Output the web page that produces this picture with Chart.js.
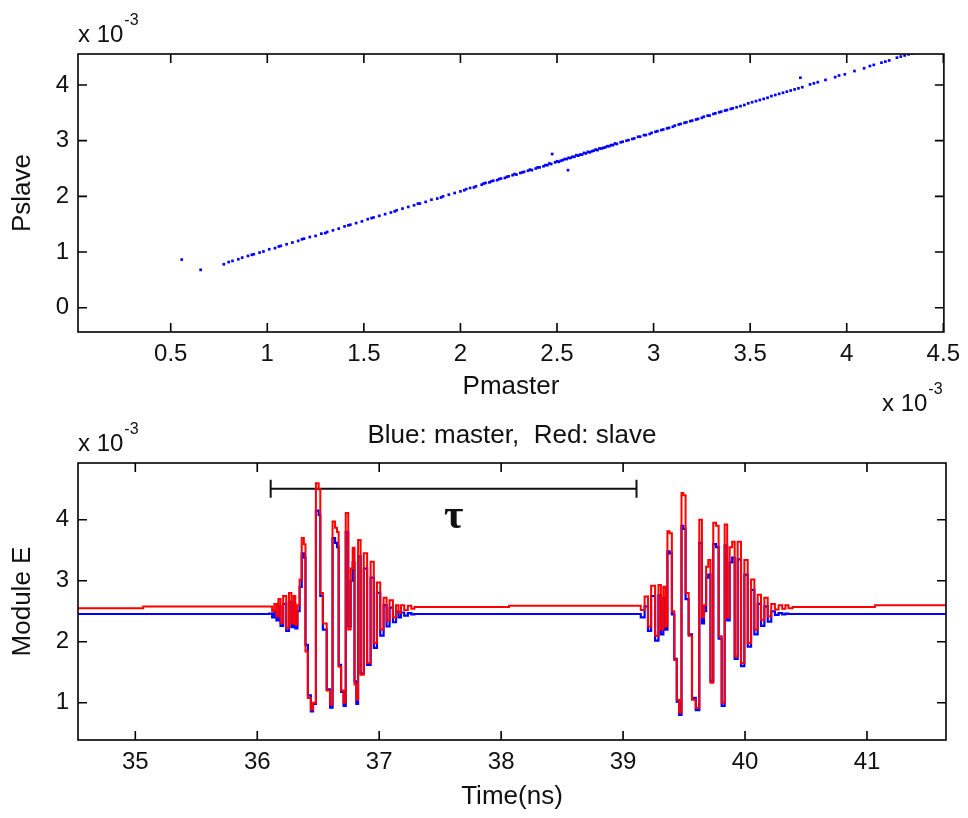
<!DOCTYPE html>
<html>
<head>
<meta charset="utf-8">
<script src="https://cdn.jsdelivr.net/npm/chart.js@4.4.1/dist/chart.umd.min.js"></script>
<style>
  html, body { margin: 0; padding: 0; background: #fff; }
  #page { position: relative; width: 968px; height: 818px; overflow: hidden; }
  .panel { position: absolute; left: 0; }
  #topPanel { top: 0; }
  #bottomPanel { top: 415px; }
</style>
</head>
<body>
<div id="page">
  <div class="panel" id="topPanel"><canvas id="scatterChart" width="968" height="415"></canvas></div>
  <div class="panel" id="bottomPanel"><canvas id="timeChart" width="968" height="403"></canvas></div>
</div>
<script>
// Pmaster / Pslave scatter (x 10^-3)
const pMaster = [0.557, 0.655, 0.775, 0.80, 0.82, 0.85, 0.87, 0.90, 0.93, 0.96, 0.98, 1.01, 1.04, 1.07,
  1.10, 1.13, 1.16, 1.19, 1.22, 1.25, 1.28, 1.31, 1.34, 1.37, 1.40, 1.43, 1.46, 1.49, 1.52, 1.55, 1.58,
  1.61, 1.64, 1.67, 1.70, 1.73, 1.76, 1.79, 1.82, 1.85, 1.88, 1.91, 1.94, 1.97, 2.00, 2.03, 2.05, 2.08,
  2.11, 2.13, 2.15, 2.17, 2.19, 2.21, 2.23, 2.25, 2.27, 2.29, 2.31, 2.33, 2.35, 2.37, 2.39, 2.41, 2.43,
  2.45, 2.47, 2.49, 2.51, 2.53, 2.55, 2.57, 2.59, 2.61, 2.63, 2.65, 2.67, 2.69, 2.71, 2.73, 2.75, 2.77,
  2.79, 2.81, 2.84, 2.87, 2.90, 2.93, 2.96, 2.99, 3.02, 3.05, 3.08, 3.11, 3.14, 3.17, 3.20, 3.23, 3.26,
  3.29, 3.32, 3.35, 3.38, 3.41, 3.45, 3.49, 3.53, 3.57, 3.61, 3.65, 3.69, 3.73, 3.77, 3.81, 3.85, 3.89,
  3.94, 3.99, 4.04, 4.09, 4.14, 4.18, 4.22, 4.26, 4.30, 4.34, 2.475, 2.557, 3.76,
  0.92, 1.06, 1.18, 1.30, 1.42, 1.54, 1.66, 1.78, 1.90, 2.02, 2.07, 2.12, 2.16, 2.20, 2.24, 2.28, 2.32,
  2.36, 2.40, 2.44, 2.46, 2.50, 2.52, 2.54, 2.56, 2.58, 2.60, 2.62, 2.64, 2.66, 2.68, 2.70, 2.72, 2.74,
  2.76, 2.78, 2.80, 2.83, 2.86, 2.89, 2.92, 2.95, 2.98, 3.01, 3.04, 3.07, 3.10, 3.13, 3.16, 3.19, 3.22,
  3.25, 3.28, 3.31, 3.34, 3.37, 3.40, 3.43, 3.47, 3.51, 3.55, 3.59, 3.63, 3.67, 3.71, 3.75, 3.83, 3.96,
  4.12, 4.20, 4.28, 4.32];
const pSlave = [0.865, 0.68, 0.78, 0.82, 0.84, 0.87, 0.90, 0.93, 0.96, 0.99, 1.01, 1.05, 1.07, 1.11,
  1.14, 1.17, 1.20, 1.24, 1.27, 1.29, 1.33, 1.36, 1.39, 1.42, 1.46, 1.49, 1.52, 1.55, 1.59, 1.62, 1.65,
  1.68, 1.71, 1.75, 1.78, 1.81, 1.84, 1.87, 1.90, 1.94, 1.96, 2.00, 2.03, 2.06, 2.09, 2.13, 2.15, 2.18,
  2.21, 2.24, 2.25, 2.28, 2.29, 2.32, 2.33, 2.36, 2.38, 2.39, 2.42, 2.44, 2.46, 2.47, 2.50, 2.52, 2.54,
  2.56, 2.58, 2.61, 2.62, 2.65, 2.67, 2.69, 2.71, 2.73, 2.75, 2.77, 2.79, 2.82, 2.83, 2.86, 2.88, 2.90,
  2.92, 2.94, 2.98, 3.01, 3.04, 3.07, 3.10, 3.14, 3.17, 3.20, 3.23, 3.27, 3.30, 3.33, 3.36, 3.39, 3.43,
  3.45, 3.49, 3.52, 3.55, 3.58, 3.62, 3.67, 3.71, 3.75, 3.80, 3.84, 3.88, 3.92, 3.96, 4.01, 4.05, 4.09,
  4.14, 4.19, 4.25, 4.30, 4.36, 4.40, 4.44, 4.49, 4.53, 4.57, 2.76, 2.47, 4.13,
  0.95, 1.10, 1.23, 1.34, 1.48, 1.61, 1.73, 1.87, 1.98, 2.11, 2.16, 2.23, 2.27, 2.31, 2.35, 2.40, 2.43,
  2.48, 2.52, 2.56, 2.59, 2.63, 2.64, 2.67, 2.69, 2.71, 2.74, 2.75, 2.78, 2.80, 2.81, 2.84, 2.86, 2.87,
  2.90, 2.92, 2.95, 2.97, 3.00, 3.03, 3.07, 3.10, 3.12, 3.16, 3.19, 3.22, 3.25, 3.29, 3.32, 3.35, 3.38,
  3.41, 3.45, 3.48, 3.51, 3.54, 3.57, 3.60, 3.64, 3.69, 3.73, 3.77, 3.82, 3.86, 3.90, 3.94, 4.03, 4.17,
  4.34, 4.42, 4.51, 4.55];
const pTicksX = [0.5, 1, 1.5, 2, 2.5, 3, 3.5, 4, 4.5];
const pTicksY = [0, 1, 2, 3, 4];

// Module E vs time (x 10^-3)
const timeNs = [34.50, 35.06, 35.07, 36.08, 36.114, 36.13, 36.15, 36.165, 36.182, 36.20, 36.225, 36.25,
  36.27, 36.29, 36.305, 36.319, 36.34, 36.355, 36.374, 36.39, 36.401, 36.429, 36.45, 36.465, 36.497,
  36.51, 36.524, 36.552, 36.587, 36.607, 36.628, 36.648, 36.66, 36.675, 36.70, 36.716, 36.735, 36.757,
  36.775, 36.79, 36.805, 36.82, 36.834, 36.861, 36.886, 36.916, 36.943, 36.968, 36.995, 37.022, 37.05,
  37.071, 37.099, 37.126, 37.15, 37.167, 37.19, 37.22, 37.25, 37.277, 37.30, 38.06, 38.07,
  39.13, 39.16, 39.193, 39.215, 39.245, 39.28, 39.30, 39.32, 39.34, 39.355, 39.372, 39.39, 39.41, 39.43,
  39.45, 39.47, 39.488, 39.50, 39.525, 39.55, 39.58, 39.612, 39.638, 39.655, 39.672, 39.69, 39.707,
  39.726, 39.753, 39.772, 39.795, 39.822, 39.844, 39.863, 39.885, 39.904, 39.926, 39.953, 39.981, 40.008,
  40.036, 40.063, 40.09, 40.117, 40.145, 40.172, 40.20, 40.23, 40.26, 40.29, 40.32, 40.342, 40.37, 40.41,
  41.06, 41.07, 41.70];
const moduleRed = [2.55, 2.55, 2.58, 2.58, 2.58, 2.50, 2.62, 2.42, 2.70, 2.31, 2.75, 2.23,
  2.80, 2.30, 2.75, 2.28, 2.60, 3.02, 3.70, 3.60, 1.84, 1.08, 0.89, 1.00, 4.60,
  4.50, 2.80, 2.30, 1.20, 0.97, 3.97, 3.87, 3.80, 1.59, 1.20, 1.00, 4.11, 2.20,
  3.20, 3.54, 1.30, 1.05, 3.67, 1.46, 3.45, 1.65, 3.31, 1.98, 2.97, 2.20, 2.72,
  2.35, 2.68, 2.40, 2.60, 2.48, 2.60, 2.52, 2.59, 2.54, 2.57, 2.57, 2.59,
  2.59, 2.52, 2.74, 2.25, 2.92, 2.10, 2.93, 2.20, 2.90, 2.25, 3.81, 3.78, 2.50, 1.70,
  1.05, 0.84, 4.44, 4.40, 2.80, 2.10, 1.05, 0.92, 4.00, 2.40, 2.60, 3.23, 3.34,
  1.33, 3.95, 3.90, 2.09, 1.00, 3.92, 2.40, 3.55, 3.64, 1.76, 3.64, 1.65, 3.34,
  1.98, 3.02, 2.20, 2.77, 2.36, 2.72, 2.42, 2.62, 2.53, 2.60, 2.54, 2.60, 2.55, 2.57,
  2.57, 2.60, 2.60];
const moduleBlue = [2.455, 2.455, 2.455, 2.455, 2.46, 2.40, 2.52, 2.35, 2.58, 2.26, 2.62, 2.18,
  2.66, 2.24, 2.62, 2.22, 2.50, 2.90, 3.45, 3.38, 1.95, 1.12, 0.86, 0.98, 4.15,
  4.08, 2.75, 2.20, 1.22, 0.92, 3.70, 3.62, 3.55, 1.62, 1.18, 0.95, 3.80, 2.25,
  3.00, 3.30, 1.35, 0.98, 3.40, 1.48, 3.20, 1.62, 3.05, 1.90, 2.80, 2.10, 2.60,
  2.25, 2.56, 2.32, 2.50, 2.40, 2.48, 2.43, 2.47, 2.45, 2.455, 2.455, 2.455,
  2.455, 2.40, 2.58, 2.18, 2.75, 2.02, 2.76, 2.12, 2.72, 2.20, 3.48, 3.45, 2.45, 1.72,
  1.02, 0.80, 3.90, 3.85, 2.70, 2.12, 1.08, 0.88, 3.62, 2.30, 2.50, 3.05, 3.10,
  1.36, 3.60, 3.55, 2.05, 0.95, 3.58, 2.35, 3.30, 3.38, 1.72, 3.35, 1.60, 3.10,
  1.92, 2.85, 2.12, 2.62, 2.26, 2.58, 2.33, 2.50, 2.44, 2.47, 2.45, 2.46, 2.455, 2.455,
  2.455, 2.455, 2.455];
const timeTicks = [35, 36, 37, 38, 39, 40, 41];
const moduleTicks = [1, 2, 3, 4];
const tauSpan = [36.11, 39.11];
const tauLevel = 4.51;

const FONT = '"Liberation Sans", Arial, sans-serif';
const TEXT = '#111111';

// MATLAB style box with inward ticks on all four sides
const boxAxes = {
    id: 'boxAxes',
    afterDraw(chart) {
        const { ctx, chartArea: a } = chart;
        const x = chart.scales.x, y = chart.scales.y;
        ctx.save();
        ctx.strokeStyle = '#000';
        ctx.lineWidth = 1.6;
        ctx.strokeRect(a.left, a.top, a.right - a.left, a.bottom - a.top);
        ctx.beginPath();
        x.ticks.forEach(t => {
            const px = x.getPixelForValue(t.value);
            ctx.moveTo(px, a.bottom); ctx.lineTo(px, a.bottom - 9);
            ctx.moveTo(px, a.top); ctx.lineTo(px, a.top + 9);
        });
        y.ticks.forEach(t => {
            const py = y.getPixelForValue(t.value);
            ctx.moveTo(a.left, py); ctx.lineTo(a.left + 9, py);
            ctx.moveTo(a.right, py); ctx.lineTo(a.right - 9, py);
        });
        ctx.stroke();
        ctx.restore();
    }
};

// "x 10^-3" multiplier labels
const exponentLabel = {
    id: 'exponentLabel',
    afterDraw(chart, args, opts) {
        const ctx = chart.ctx;
        ctx.save();
        ctx.fillStyle = TEXT;
        ctx.textAlign = 'left';
        ctx.textBaseline = 'alphabetic';
        (opts.spots || []).forEach(s => {
            ctx.font = '24px ' + FONT;
            ctx.fillText('x 10', s.x, s.y);
            const w = ctx.measureText('x 10').width;
            ctx.font = '16px ' + FONT;
            ctx.fillText('-3', w + s.x + 1, s.y - 17);
        });
        ctx.restore();
    }
};

// tau bracket between the two pulses
const tauMarker = {
    id: 'tauMarker',
    beforeDatasetsDraw(chart) {
        const { ctx } = chart;
        const x = chart.scales.x, y = chart.scales.y;
        const x0 = x.getPixelForValue(tauSpan[0]);
        const x1 = x.getPixelForValue(tauSpan[1]);
        const py = y.getPixelForValue(tauLevel);
        ctx.save();
        ctx.strokeStyle = '#111';
        ctx.lineWidth = 2;
        ctx.beginPath();
        ctx.moveTo(x0, py); ctx.lineTo(x1, py);
        ctx.moveTo(x0, py - 9); ctx.lineTo(x0, py + 9);
        ctx.moveTo(x1, py - 9); ctx.lineTo(x1, py + 9);
        ctx.stroke();
        ctx.fillStyle = '#111';
        ctx.font = 'bold 42px "Liberation Serif", "DejaVu Serif", serif';
        ctx.textAlign = 'center';
        ctx.textBaseline = 'middle';
        ctx.fillText('τ', (x0 + x1) / 2, py + 29);
        ctx.restore();
    }
};

function axisX(min, max, tickVals, title, height, titlePad) {
    return {
        type: 'linear', min: min, max: max,
        grid: { display: false, drawTicks: false }, border: { display: false },
        afterBuildTicks: s => { s.ticks = tickVals.map(v => ({ value: v })); },
        afterFit: s => { s.height = height; },
        ticks: { padding: 8, color: TEXT, font: { family: FONT, size: 24 }, callback: v => String(v), maxRotation: 0 },
        title: { display: true, text: title, color: TEXT, font: { family: FONT, size: 26 }, padding: { top: 0, bottom: titlePad } }
    };
}
function axisY(min, max, tickVals, title) {
    return {
        type: 'linear', min: min, max: max,
        grid: { display: false, drawTicks: false }, border: { display: false },
        afterBuildTicks: s => { s.ticks = tickVals.map(v => ({ value: v })); },
        afterFit: s => { s.width = 78; },
        ticks: { padding: 9, color: TEXT, font: { family: FONT, size: 24 }, callback: v => String(v) },
        title: { display: true, text: title, color: TEXT, font: { family: FONT, size: 26 }, padding: { top: 7.5, bottom: 0 } }
    };
}

new Chart(document.getElementById('scatterChart'), {
    type: 'scatter',
    data: {
        datasets: [{
            data: pMaster.map((v, i) => ({ x: v, y: pSlave[i] })),
            pointStyle: 'rect',
            pointRadius: 1.9,
            backgroundColor: '#0000ff',
            borderWidth: 0
        }]
    },
    options: {
        responsive: false,
        animation: false,
        layout: { padding: { left: 0, top: 54, right: 21, bottom: 13 } },
        scales: {
            x: axisX(0.02, 4.503, pTicksX, 'Pmaster', 70, 0),
            y: axisY(-0.436, 4.556, pTicksY, 'Pslave')
        },
        plugins: {
            legend: { display: false },
            tooltip: { enabled: false },
            exponentLabel: { spots: [{ x: 78, y: 42 }, { x: 882, y: 411 }] }
        }
    },
    plugins: [boxAxes, exponentLabel]
});

new Chart(document.getElementById('timeChart'), {
    type: 'line',
    data: {
        datasets: [{
            label: 'slave',
            data: timeNs.map((t, i) => ({ x: t, y: moduleRed[i] })),
            borderColor: '#ff0000',
            borderWidth: 2,
            pointRadius: 0,
            stepped: 'middle'
        }, {
            label: 'master',
            data: timeNs.map((t, i) => ({ x: t, y: moduleBlue[i] })),
            borderColor: '#0000ff',
            borderWidth: 2.2,
            pointRadius: 0,
            stepped: 'middle'
        }]
    },
    options: {
        responsive: false,
        animation: false,
        layout: { padding: { left: 0, top: 0, right: 22, bottom: 6 } },
        scales: {
            x: axisX(34.53, 41.648, timeTicks, 'Time(ns)', 72, 0),
            y: axisY(0.39, 4.93, moduleTicks, 'Module E')
        },
        plugins: {
            legend: { display: false },
            tooltip: { enabled: false },
            title: {
                display: true, fullSize: false,
                text: 'Blue: master,  Red: slave',
                color: TEXT, font: { family: FONT, size: 26, weight: 'normal' },
                padding: { top: 4.8, bottom: 12 }
            },
            exponentLabel: { spots: [{ x: 78, y: 36 }] }
        }
    },
    plugins: [boxAxes, exponentLabel, tauMarker]
});
</script>
</body>
</html>
